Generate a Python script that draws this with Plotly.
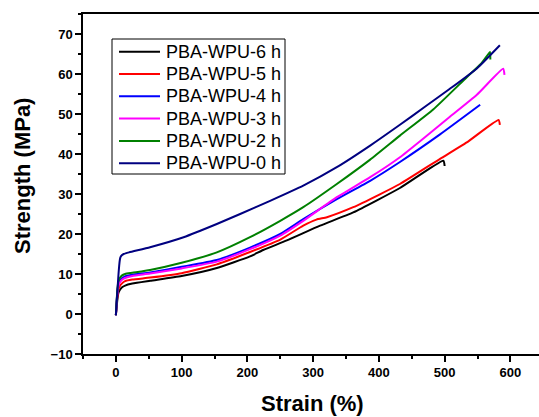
import plotly.graph_objects as go

# ---- data ----
names = ["PBA-WPU-6 h", "PBA-WPU-5 h", "PBA-WPU-4 h", "PBA-WPU-3 h", "PBA-WPU-2 h", "PBA-WPU-0 h"]
colors = ["#000000", "#ff0000", "#0000ff", "#ff00ff", "#008000", "#000080"]

strain_6h = [0, 1, 2, 3, 4, 6, 9, 14, 25, 52, 100, 153.5, 204, 224, 260, 310.6, 361, 432, 498, 500]
stress_6h = [-0.3, 1.5, 3.2, 4.5, 5.3, 6.0, 6.6, 7.1, 7.6, 8.3, 9.5, 11.5, 14.4, 16.0, 18.4, 22.1, 25.4, 31.5, 38.3, 37.0]

strain_5h = [0, 1, 2, 3, 4, 6, 9, 14, 25, 52, 100, 153.5, 204, 250, 285, 305, 321, 361, 400, 432, 493, 533.7, 582, 584]
stress_5h = [-0.3, 2.0, 4.0, 5.3, 6.2, 7.0, 7.6, 8.2, 8.6, 9.1, 10.2, 12.4, 15.5, 18.6, 22.1, 23.6, 24.2, 26.7, 29.8, 32.5, 38.8, 42.9, 48.5, 47.3]

strain_4h = [0, 1, 2, 3, 4, 6, 9, 14, 25, 52, 100, 153.5, 204, 250, 285, 336, 386.7, 432, 493, 554]
stress_4h = [-0.3, 2.5, 5.0, 6.5, 7.4, 8.3, 8.9, 9.4, 9.8, 10.4, 11.8, 13.5, 16.6, 20.0, 23.7, 28.7, 33.3, 38.0, 44.9, 52.3]

strain_3h = [0, 1, 2, 3, 4, 6, 9, 14, 25, 52, 100, 153.5, 204, 250, 285, 336, 386.7, 432, 470, 508, 549, 589, 591]
stress_3h = [-0.3, 2.3, 4.6, 6.2, 7.1, 7.9, 8.5, 9.0, 9.5, 10.1, 11.4, 13.1, 16.2, 19.6, 23.3, 29.2, 34.2, 39.2, 44.2, 49.3, 54.8, 61.3, 59.8]

strain_2h = [0, 1, 2, 3, 4, 6, 9, 14, 25, 52, 100, 153.5, 204, 250, 285, 336, 386.7, 432, 483, 533.7, 555, 566.5, 569, 569.5]
stress_2h = [-0.3, 2.8, 5.5, 7.2, 8.2, 9.0, 9.6, 10.0, 10.3, 11.0, 12.8, 15.4, 19.2, 23.3, 26.7, 32.5, 38.6, 44.6, 51.2, 59.2, 62.5, 65.0, 65.5, 63.6]

strain_0h = [0, 1, 2, 3, 4, 5, 6, 7, 9, 12, 20, 52, 103, 153.5, 189, 234.6, 285, 336, 386.7, 432, 470, 508, 549, 584]
stress_0h = [-0.3, 2.5, 5.0, 7.5, 10.0, 12.0, 13.5, 14.2, 14.7, 15.0, 15.4, 16.7, 19.2, 22.5, 25.0, 28.3, 32.1, 36.7, 42.1, 47.3, 51.8, 56.3, 61.4, 67.2]

x_ticks = [0, 100, 200, 300, 400, 500, 600]
y_ticks = [-10, 0, 10, 20, 30, 40, 50, 60, 70]

series = [
    (strain_6h, stress_6h),
    (strain_5h, stress_5h),
    (strain_4h, stress_4h),
    (strain_3h, stress_3h),
    (strain_2h, stress_2h),
    (strain_0h, stress_0h),
]

FONT = "Liberation Sans, Arial, sans-serif"

# plot-area geometry in pixels (for paper-coordinate conversions)
W, H = 539, 417
ML, MR, MT, MB = 83, 0, 14, 63
PW, PH = W - ML - MR, H - MT - MB


def px(x):
    return (x - ML) / PW


def py(y):
    return 1 - (y - MT) / PH


fig = go.Figure()
for (xs, ys), name, col in zip(series, names, colors):
    fig.add_trace(go.Scatter(x=xs, y=ys, mode="lines", name=name, showlegend=False,
                             line=dict(color=col, width=2, shape="spline", smoothing=0.5)))

# legend box drawn as a framed block of sample lines + labels
shapes = [dict(type="rect", xref="paper", yref="paper",
               x0=px(112), x1=px(285), y0=py(39), y1=py(174),
               line=dict(color="black", width=1), fillcolor="white", layer="above")]
annotations = []
row0, rowstep = 51.7, 22.3
for i, (name, col) in enumerate(zip(names, colors)):
    yc = row0 + i * rowstep
    shapes.append(dict(type="line", xref="paper", yref="paper",
                       x0=px(119), x1=px(160), y0=py(yc), y1=py(yc),
                       line=dict(color=col, width=2), layer="above"))
    annotations.append(dict(text=name, xref="paper", yref="paper",
                            x=px(164), y=py(yc), xanchor="left", yanchor="middle",
                            showarrow=False,
                            font=dict(family=FONT, size=18, color="black")))

annotations += [
    dict(text="Strain (%)", xref="paper", yref="paper",
         x=px(312), y=py(403), xanchor="center", yanchor="middle", showarrow=False,
         font=dict(family=FONT, size=22, weight="bold", color="black")),
    dict(text="Strength (MPa)", xref="paper", yref="paper",
         x=px(22), y=py(176), textangle=-90,
         xanchor="center", yanchor="middle", showarrow=False,
         font=dict(family=FONT, size=22, weight="bold", color="black")),
]

fig.update_layout(
    width=W, height=H,
    margin=dict(l=ML, r=MR, t=MT, b=MB),
    paper_bgcolor="white", plot_bgcolor="white",
    font=dict(family=FONT, color="black"),
    showlegend=False,
    xaxis=dict(
        range=[-50, 643.5], tickmode="array", tickvals=x_ticks,
        ticks="outside", ticklen=6, tickwidth=1.5, tickcolor="black",
        showline=True, linecolor="black", linewidth=1.5, mirror=True,
        showgrid=False, zeroline=False,
        tickfont=dict(family=FONT, size=13, weight="bold", color="black"),
        minor=dict(ticks="outside", ticklen=3, tickwidth=1.5, tickcolor="black",
                   tickmode="linear", tick0=0, dtick=50, showgrid=False),
    ),
    yaxis=dict(
        range=[-10, 75], tickmode="array", tickvals=y_ticks,
        ticks="outside", ticklen=6, tickwidth=1.5, tickcolor="black",
        showline=True, linecolor="black", linewidth=1.5, mirror=False,
        showgrid=False, zeroline=False,
        tickfont=dict(family=FONT, size=13, weight="bold", color="black"),
        minor=dict(ticks="outside", ticklen=3, tickwidth=1.5, tickcolor="black",
                   tickmode="linear", tick0=0, dtick=5, showgrid=False),
    ),
    shapes=shapes,
    annotations=annotations,
)

fig.write_html("out.html")
